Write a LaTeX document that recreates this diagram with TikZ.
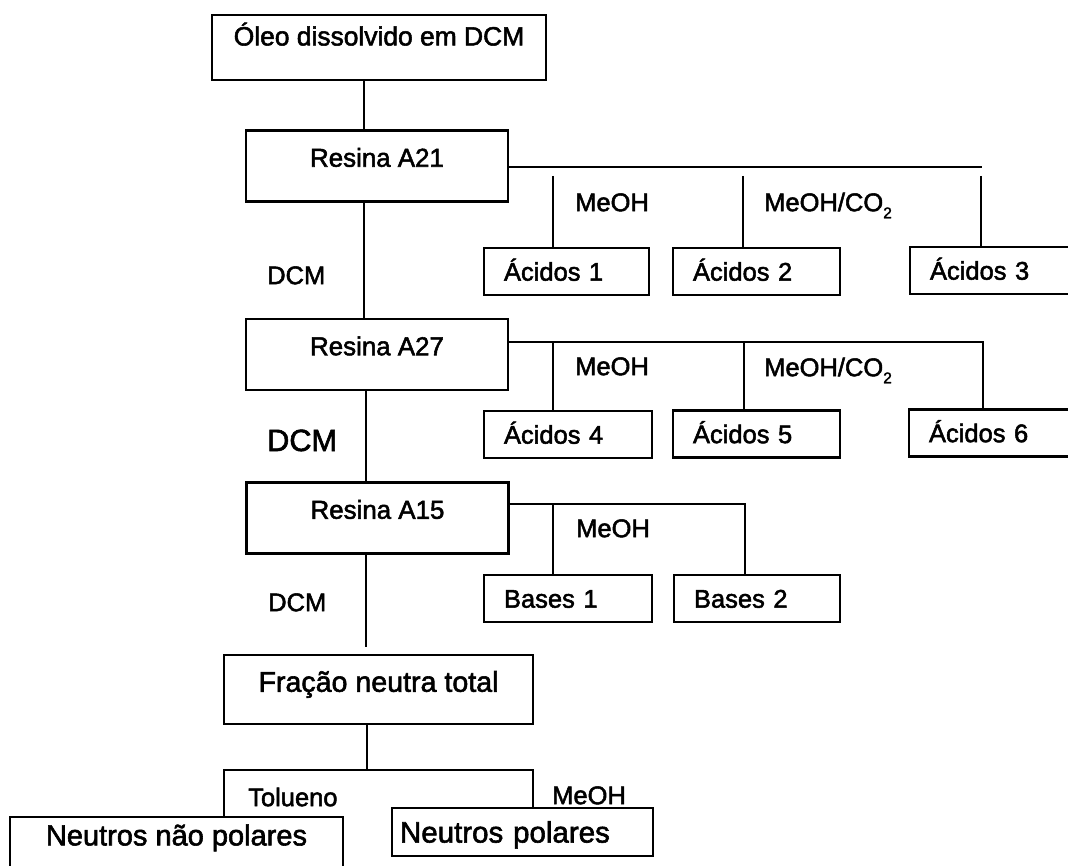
\documentclass[tikz,border=0pt]{standalone}
\usepackage{fontspec}
\setmainfont{Liberation Sans}[FakeBold=2]
\newcommand\sz[1]{\fontsize{#1pt}{#1pt}\selectfont}
\newcommand\subtwo{\raisebox{-0.28em}{\sz{15.5}2}}
\begin{document}
\begin{tikzpicture}[x=1pt,y=-1pt,
  wire/.style={line width=2pt},
  box/.style={draw,line width=2.3pt,inner sep=0pt,font=\sz{25.5},
    text height=18.3pt,text depth=0pt},
  resin/.style={box,minimum width=262pt,minimum height=71pt,
    font=\sz{25.9},text height=18.5pt,text depth=17pt},
  sbox/.style 2 args={box,minimum height=47pt,minimum width=#1,
    text width=#2,align=left},
  lbl/.style={anchor=west,inner sep=0pt,font=\sz{25.5},
    text height=18.3pt,text depth=0pt}]
\useasboundingbox (0,0) rectangle (1068,866);
\clip (0,0) rectangle (1068,866);

% main column
\node[box,minimum width=334pt,minimum height=65pt,font=\sz{26.4},
  text height=18.9pt,text depth=23pt] (top) at (379,47.5) {Óleo dissolvido em DCM};
\node[resin] (r21) at (377,166) {Resina A21};
\node[resin] (r27) at (377,354.5) {Resina A27};
\node[resin] (r15) at (377.5,518) {Resina A15};
\node[box,minimum width=309pt,minimum height=69pt,font=\sz{28.6},
  text height=20.5pt,text depth=16pt] (fr) at (378.5,689.5) {Fração neutra total};

% acid fractions
\node[sbox={165pt}{125pt}] (a1) at (566.5,271.5) {Ácidos 1};
\node[sbox={167pt}{127pt}] (a2) at (756.5,271.5) {Ácidos 2};
\node[sbox={180pt}{140pt}] (a3) at (1000,270.5) {Ácidos 3};
\node[sbox={168pt}{128pt}] (a4) at (568,434.5) {Ácidos 4};
\node[sbox={167pt}{127pt}] (a5) at (756.5,434) {Ácidos 5};
\node[sbox={181pt}{141pt}] (a6) at (999.5,433) {Ácidos 6};

% basic fractions
\node[sbox={168pt}{128pt}] (b1) at (568,598.5) {Bases 1};
\node[sbox={166pt}{126pt}] (b2) at (757,598.5) {Bases 2};

% neutral sub-fractions
\node[box,minimum width=333pt,minimum height=63pt,font=\sz{29},
  text height=20.8pt,text depth=27pt] (nnp) at (176.5,848.5) {Neutros não polares};
\node[box,minimum width=261pt,minimum height=48pt,font=\sz{29.5},
  text height=21.1pt,text depth=0pt,text width=245pt,align=left] (np) at (522.5,832) {Neutros polares};

% eluent labels
\node[lbl] (m1) at (575,202) {MeOH};
\node[lbl] (mc1) at (764,202) {MeOH/CO\subtwo};
\node[lbl] (d1) at (267,275) {DCM};
\node[lbl] (m2) at (575,366) {MeOH};
\node[lbl] (mc2) at (764,367) {MeOH/CO\subtwo};
\node[lbl,font=\sz{30.7},text height=22pt] (d2) at (267,440) {DCM};
\node[lbl] (m3) at (576,528) {MeOH};
\node[lbl] (d3) at (268,602) {DCM};
\node[lbl] (tol) at (248,797) {Tolueno};
\node[lbl] (m4) at (552,795) {MeOH};

% spine
\coordinate (s1) at (364,100);
\coordinate (s2) at (366,300);
\coordinate (s3) at (366,647);
\coordinate (s4) at (367,770);
\draw[wire] (top.south -| s1) -- (r21.north -| s1);
\draw[wire] (r21.south -| s1) -- (r27.north -| s1);
\draw[wire] (r27.south -| s2) -- (r15.north -| s2);
\draw[wire] (r15.south -| s3) -- (s3);
\draw[wire] (fr.south -| s4) -- (s4);

% A21 branches
\coordinate (h1) at (982,167);
\draw[wire] (r21.east |- h1) -- (h1);
\coordinate (t1a) at (553,176);
\coordinate (t1b) at (743,176);
\coordinate (t1c) at (981,176);
\draw[wire] (t1a) -- (a1.north -| t1a);
\draw[wire] (t1b) -- (a2.north -| t1b);
\draw[wire] (t1c) -- (a3.north -| t1c);

% A27 branches
\coordinate (h2) at (983,342);
\coordinate (t2a) at (553,342);
\coordinate (t2b) at (744,342);
\draw[wire] (r27.east |- h2) -- (h2) -- (a6.north -| h2);
\draw[wire] (t2a) -- (a4.north -| t2a);
\draw[wire] (t2b) -- (a5.north -| t2b);

% A15 branches
\coordinate (h3) at (745,504);
\coordinate (t3a) at (553,504);
\draw[wire] (r15.east |- h3) -- (h3) -- (b2.north -| h3);
\draw[wire] (t3a) -- (b1.north -| t3a);

% neutral split
\coordinate (nl) at (224,770);
\coordinate (nr) at (533,770);
\draw[wire] (nnp.north -| nl) -- (nl) -- (nr) -- (np.north -| nr);
\end{tikzpicture}
\end{document}
